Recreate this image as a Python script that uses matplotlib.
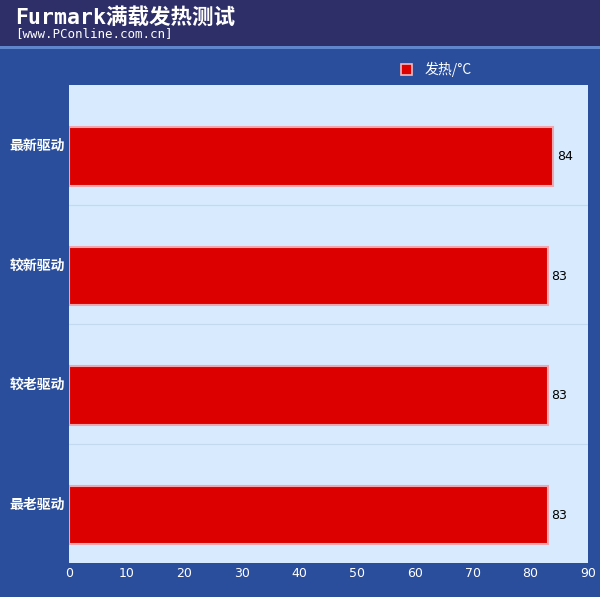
import matplotlib
matplotlib.use("Agg")
import matplotlib.pyplot as plt
from matplotlib.patches import Rectangle

plt.rcParams["font.family"] = ["Noto Sans CJK SC", "DejaVu Sans"]

drivers = ["最新驱动", "较新驱动", "较老驱动", "最老驱动"]
temps = [84, 83, 83, 83]
xticks = [0, 10, 20, 30, 40, 50, 60, 70, 80, 90]

W, H = 600, 597
fig = plt.figure(figsize=(W / 100, H / 100), dpi=100)
fig.patch.set_facecolor("#2a4e9b")

# header band
fig.patches.append(Rectangle((0, 1 - 46 / H), 1, 46 / H, transform=fig.transFigure,
                             facecolor="#2e2f68", edgecolor="none", zorder=0))
fig.patches.append(Rectangle((0, 1 - 49 / H), 1, 3 / H, transform=fig.transFigure,
                             facecolor="#5f86cc", edgecolor="none", zorder=0))
fig.text(15 / W, 1 - 17 / H, "Furmark满载发热测试", color="white", fontsize=15.5,
         fontweight="bold", va="center", ha="left",
         family=["DejaVu Sans Mono", "Noto Sans CJK SC"])
fig.text(15 / W, 1 - 34 / H, "[www.PConline.com.cn]", color="white", fontsize=9,
         va="center", ha="left", family="DejaVu Sans Mono")

ax = fig.add_axes([69 / W, (H - 563) / H, 519 / W, 478 / H])
ax.set_facecolor("#d7eafe")
y = list(range(len(drivers)))
ax.barh(y, temps, height=0.49, color="#dc0000", edgecolor="#f2a6b0", linewidth=1.5, zorder=3)
for yi, v in zip(y, temps):
    ax.text(v + 0.6, yi, str(v), va="center", ha="left", fontsize=9, color="black",
            family="DejaVu Sans")

ax.set_xlim(0, 90)
ax.set_ylim(3.4, -0.6)
ax.set_yticks([yi - 0.1 for yi in y])
ax.set_yticklabels(drivers, color="white", fontsize=10, fontweight="bold")
ax.set_xticks(xticks)
ax.set_xticklabels([str(t) for t in xticks], color="white", fontsize=9, family="DejaVu Sans")
ax.tick_params(length=0, pad=3)
for yl in [0.4, 1.4, 2.4]:
    ax.axhline(yl, color="#c4d8ee", linewidth=0.8, zorder=1)
for s in ax.spines.values():
    s.set_visible(False)

# legend
fig.patches.append(Rectangle((401 / W, 1 - 75 / H), 11 / W, 11 / H, transform=fig.transFigure,
                             facecolor="#dc0000", edgecolor="#f4b8c0", linewidth=1.2))
fig.text(425 / W, 1 - 69 / H, "发热/°C", color="white", fontsize=10, va="center", ha="left")

fig.savefig("out.png", dpi=100, facecolor=fig.get_facecolor())
